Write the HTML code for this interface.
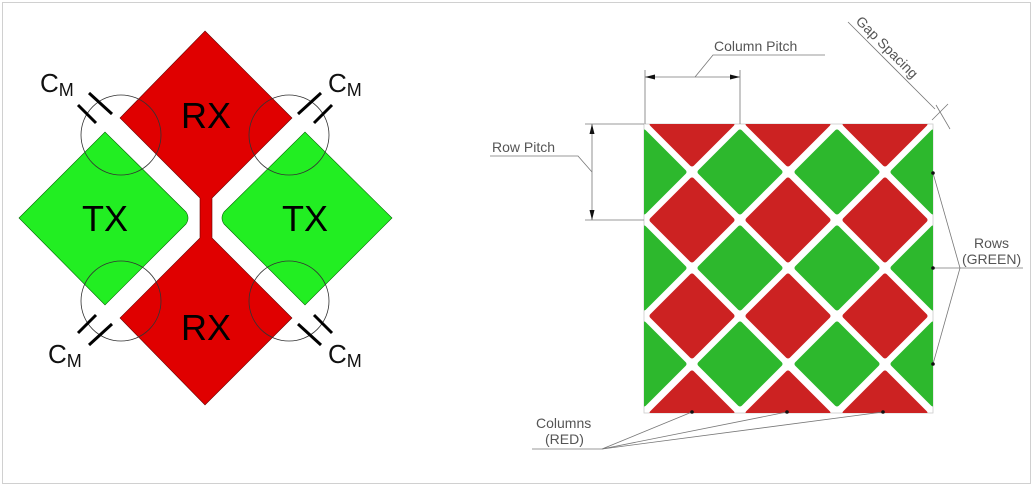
<!DOCTYPE html>
<html><head><meta charset="utf-8"><style>
html,body{margin:0;padding:0;background:#fff;}
svg{display:block;font-family:"Liberation Sans",sans-serif;}
</style></head><body>
<svg width="1033" height="486" viewBox="0 0 1033 486" xmlns="http://www.w3.org/2000/svg">
<rect x="2.5" y="2.5" width="1028" height="481" fill="#fff" stroke="#d0d0d0"/>
<!-- LEFT DIAGRAM -->
<polygon points="205,31 292,118 212,198 212,238 292,318 205,405 120,318 200,238 200,198 120,118" fill="#e00000" stroke="#600" stroke-width="0.6"/>
<path d="M19,218 L105,132 L186,212 Q190,218 186,224 L105,305 Z" fill="#22ee22" stroke="#060" stroke-width="0.6"/>
<path d="M392,218 L305,132 L224,212 Q220,218 224,224 L305,305 Z" fill="#22ee22" stroke="#060" stroke-width="0.6"/>
<g fill="none" stroke="#333" stroke-width="0.8">
<circle cx="121" cy="135" r="40"/>
<circle cx="289" cy="135" r="40"/>
<circle cx="121" cy="301" r="40"/>
<circle cx="289" cy="301" r="40"/>
</g>
<g stroke="#000" stroke-width="3">
<line x1="78" y1="105" x2="96" y2="123"/><line x1="89" y1="93" x2="112" y2="114"/>
<line x1="332" y1="105" x2="314" y2="123"/><line x1="321" y1="93" x2="298" y2="114"/>
<line x1="78" y1="333" x2="96" y2="315"/><line x1="89" y1="345" x2="112" y2="324"/>
<line x1="332" y1="333" x2="314" y2="315"/><line x1="321" y1="345" x2="298" y2="324"/>
</g>
<g font-size="36" text-anchor="middle" fill="#000">
<text x="206" y="128">RX</text>
<text x="105" y="231">TX</text>
<text x="305" y="231">TX</text>
<text x="206" y="340">RX</text>
</g>
<g font-size="26" fill="#111">
<text x="40" y="92">C<tspan font-size="18" dy="4">M</tspan></text>
<text x="328" y="92">C<tspan font-size="18" dy="4">M</tspan></text>
<text x="48" y="363">C<tspan font-size="18" dy="4">M</tspan></text>
<text x="328" y="363">C<tspan font-size="18" dy="4">M</tspan></text>
</g>
<!-- RIGHT GRID -->
<defs><clipPath id="g"><rect x="644" y="124" width="289" height="289"/></clipPath></defs>
<rect x="644" y="124" width="289" height="289" fill="#fff" stroke="#ccc" stroke-width="0.8"/>
<g clip-path="url(#g)" stroke-linejoin="round" stroke-width="5">
<g fill="#cc2222" stroke="#cc2222">
<polygon points="692,84 732,124 692,164 652,124"/><polygon points="788,84 828,124 788,164 748,124"/><polygon points="885,84 925,124 885,164 845,124"/>
<polygon points="692,180 732,220 692,260 652,220"/><polygon points="788,180 828,220 788,260 748,220"/><polygon points="885,180 925,220 885,260 845,220"/>
<polygon points="692,276 732,316 692,356 652,316"/><polygon points="788,276 828,316 788,356 748,316"/><polygon points="885,276 925,316 885,356 845,316"/>
<polygon points="692,373 732,413 692,453 652,413"/><polygon points="788,373 828,413 788,453 748,413"/><polygon points="885,373 925,413 885,453 845,413"/>
</g>
<g fill="#2db82d" stroke="#2db82d">
<polygon points="644,132 684,172 644,212 604,172"/><polygon points="740,132 780,172 740,212 700,172"/><polygon points="837,132 877,172 837,212 797,172"/><polygon points="933,132 973,172 933,212 893,172"/>
<polygon points="644,228 684,268 644,308 604,268"/><polygon points="740,228 780,268 740,308 700,268"/><polygon points="837,228 877,268 837,308 797,268"/><polygon points="933,228 973,268 933,308 893,268"/>
<polygon points="644,324 684,364 644,404 604,364"/><polygon points="740,324 780,364 740,404 700,364"/><polygon points="837,324 877,364 837,404 797,364"/><polygon points="933,324 973,364 933,404 893,364"/>
</g>
</g>
<!-- annotations -->
<g stroke="#777" stroke-width="0.8" fill="none">
<line x1="645" y1="70" x2="645" y2="124"/><line x1="740" y1="70" x2="740" y2="124"/>
<line x1="645" y1="77" x2="740" y2="77"/>
<polyline points="695,77 713,55 825,55"/>
<line x1="585" y1="124" x2="644" y2="124"/><line x1="585" y1="220" x2="644" y2="220"/>
<line x1="592" y1="124" x2="592" y2="220"/>
<polyline points="592,172 578,156 490,156"/>
<line x1="848" y1="22" x2="935" y2="109"/>
<line x1="932" y1="120" x2="948" y2="104"/>
<line x1="936" y1="105" x2="950" y2="129"/>
<polyline points="933,173 960,268 933,364"/><line x1="933" y1="268" x2="1023" y2="268"/>
<polyline points="692,412 602,449 787,412"/><line x1="602" y1="449" x2="883" y2="412"/><line x1="532" y1="449" x2="602" y2="449"/>
</g>
<g fill="#111">
<polygon points="645,77 655,74.5 655,79.5"/><polygon points="740,77 730,74.5 730,79.5"/>
<polygon points="592,124 589.5,134 594.5,134"/><polygon points="592,220 589.5,210 594.5,210"/>
<circle cx="933" cy="173" r="1.8"/><circle cx="933" cy="268" r="1.8"/><circle cx="933" cy="364" r="1.8"/>
<circle cx="692" cy="412" r="1.8"/><circle cx="787" cy="412" r="1.8"/><circle cx="883" cy="412" r="1.8"/>
</g>
<g font-size="14" fill="#555">
<text x="714" y="51">Column Pitch</text>
<text x="492" y="152">Row Pitch</text>
<text x="974" y="248">Rows</text>
<text x="962" y="264">(GREEN)</text>
<text x="536" y="428">Columns</text>
<text x="545" y="444">(RED)</text>
<text x="0" y="0" transform="translate(855,22) rotate(45)">Gap Spacing</text>
</g>
</svg>
</body></html>
